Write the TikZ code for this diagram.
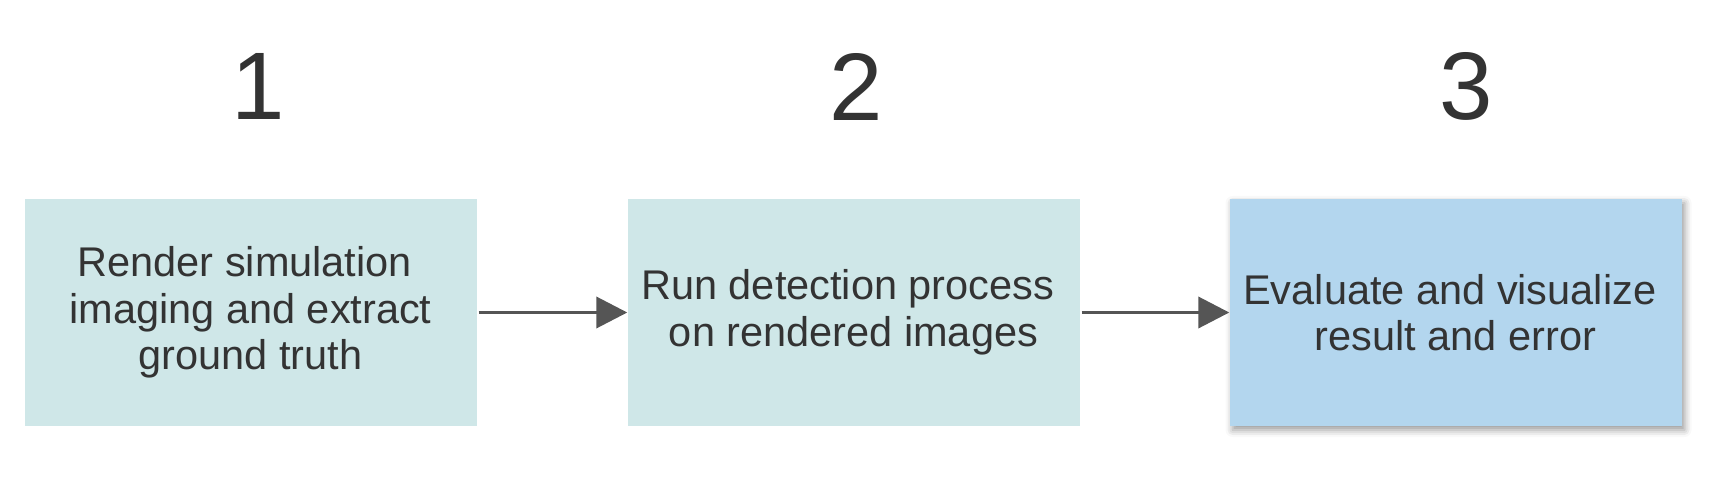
\documentclass[tikz,border=0pt]{standalone}
\usepackage{fontspec}
\setmainfont{Liberation Sans}
\usetikzlibrary{arrows.meta,shadows.blur}
\definecolor{tealbox}{HTML}{CFE7E8}
\definecolor{bluebox}{HTML}{B3D6EE}
\definecolor{txt}{HTML}{333333}
\definecolor{arr}{HTML}{555555}
\newcommand{\trsp}{\hspace*{11.5pt}}
\begin{document}
\begin{tikzpicture}[x=1pt,y=1pt,
  stepbox/.style={rectangle,inner sep=0pt,minimum width=452pt,minimum height=227pt,text=txt,align=center,font=\fontsize{41.5}{46.5}\selectfont},
  numlabel/.style={text=txt,font=\fontsize{96}{110}\selectfont,inner sep=0pt},
  flow/.style={draw=arr,line width=3.8pt,-{Triangle[length=31pt,width=31pt]},shorten <=2pt}]
\useasboundingbox (0,0) rectangle (1715,496);
\node[stepbox,fill=tealbox] (b1) at (250.5,183.5) {Render simulation\trsp\\imaging and extract\trsp\\ground truth};
\node[stepbox,fill=tealbox] (b2) at (853.5,183.5) {Run detection process\trsp\\on rendered images};
\node[stepbox,fill=bluebox,blur shadow={shadow xshift=3pt,shadow yshift=-4pt,shadow blur radius=7pt,shadow opacity=40}] (b3) at (1455.5,183.5) {Evaluate and visualize\trsp\\result and error};
\node[numlabel] (n1) at (258,409.5) {1};
\node[numlabel] (n2) at (856,409.5) {2};
\node[numlabel] (n3) at (1466,409.5) {3};
\draw[flow] (b1.east) -- (b2.west);
\draw[flow] (b2.east) -- (b3.west);
\end{tikzpicture}
\end{document}
